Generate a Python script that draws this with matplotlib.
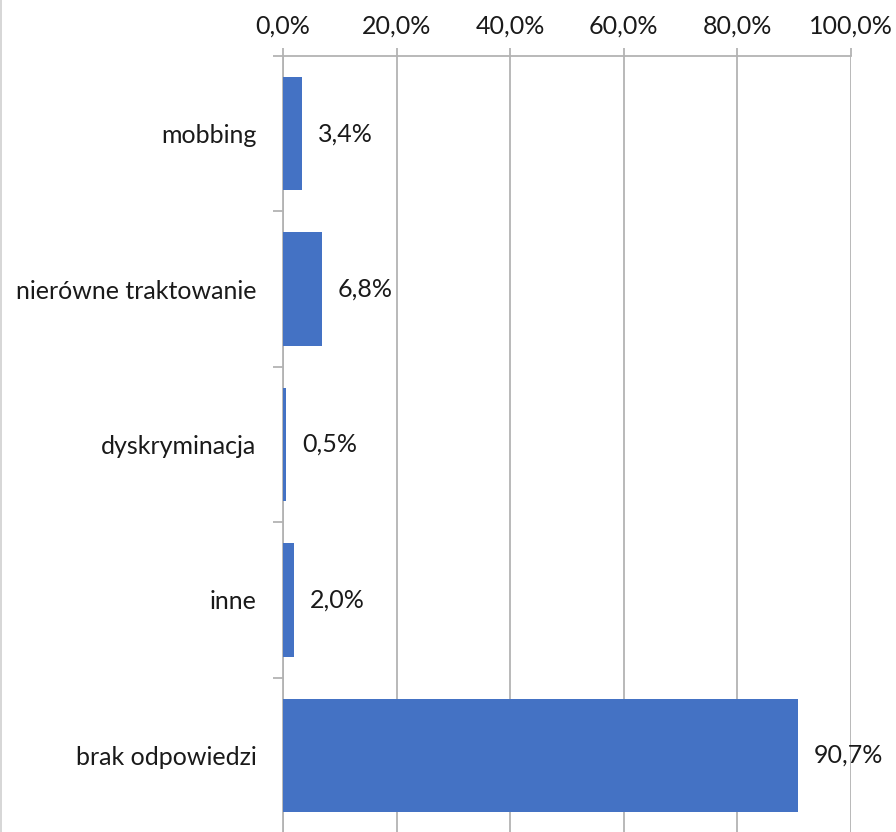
import matplotlib.pyplot as plt
from matplotlib.lines import Line2D
import numpy as np

# dane
categories = ["mobbing", "nierówne traktowanie", "dyskryminacja", "inne", "brak odpowiedzi"]
values = [3.4, 6.8, 0.5, 2.0, 90.7]
xticks = [0, 20, 40, 60, 80, 100]

plt.rcParams['font.family'] = ['Lato', 'DejaVu Sans']

W, H = 896, 832
FS = 18
fig = plt.figure(figsize=(W / 100, H / 100), dpi=100)
ax = fig.add_axes([283 / W, -1 / H, 568 / W, 777 / H])

BLUE = "#4472c4"
GRID = "#b3b3b3"

y = np.arange(len(categories))
ax.barh(y, values, height=0.73, color=BLUE, zorder=3)

for yi, v in zip(y, values):
    ax.annotate(f"{v:.1f}%".replace(".", ","), (v, yi), xytext=(16, 0),
                textcoords="offset pixels", va="center", ha="left",
                fontsize=FS, color="#1a1a1a", zorder=4)

ax.set_xlim(0, 100)
ax.set_ylim(len(categories) - 0.5, -0.5)
ax.set_xticks(xticks)
ax.set_xticklabels([f"{t:.1f}%".replace(".", ",") for t in xticks])
ax.xaxis.tick_top()
ax.set_yticks(y)
ax.set_yticklabels(categories)
ax.set_yticks(np.arange(len(categories) + 1) - 0.5, minor=True)

ax.grid(axis="x", color=GRID, linewidth=1.3, zorder=0)
for s in ["right", "bottom"]:
    ax.spines[s].set_visible(False)
for s in ["top", "left"]:
    ax.spines[s].set_color(GRID)
    ax.spines[s].set_linewidth(1.3)

ax.tick_params(axis="x", which="major", length=6, width=1.3, color=GRID,
               labelsize=FS, labelcolor="#1a1a1a", pad=7)
ax.tick_params(axis="y", which="major", length=0, labelsize=FS,
               labelcolor="#1a1a1a", pad=19)
ax.tick_params(axis="y", which="minor", length=7, width=1.3, color=GRID)

# ramka wykresu po lewej
fig.add_artist(Line2D([0.5 / W, 0.5 / W], [0, 1], color="#d0d0d0", linewidth=1.2))

fig.savefig("out.png", dpi=100)
